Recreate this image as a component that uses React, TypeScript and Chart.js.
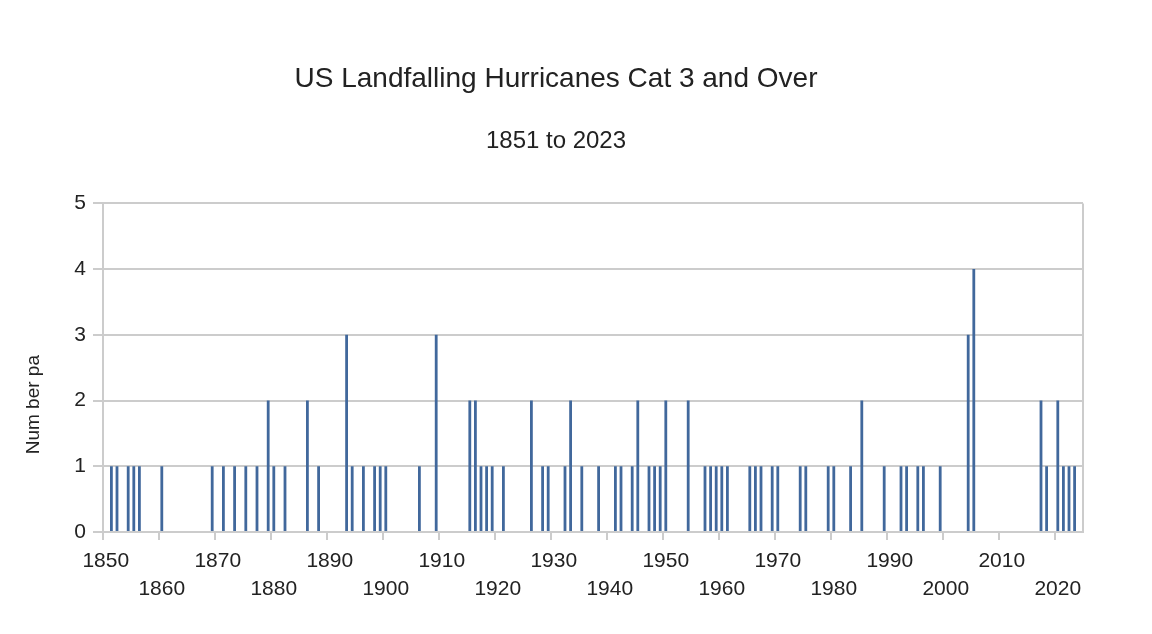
import { useEffect, useRef } from "react";
import { Chart, registerables } from "chart.js";

Chart.register(...registerables);

const FIRST_YEAR = 1850;
const LAST_YEAR = 2024;

// years with at least one Cat 3+ landfall, and how many
const landfallYears = [
  1851, 1852, 1854, 1855, 1856, 1860, 1869, 1871, 1873, 1875, 1877, 1879, 1880, 1882, 1886, 1888,
  1893, 1894, 1896, 1898, 1899, 1900, 1906, 1909, 1915, 1916, 1917, 1918, 1919, 1921, 1926, 1928,
  1929, 1932, 1933, 1935, 1938, 1941, 1942, 1944, 1945, 1947, 1948, 1949, 1950, 1954, 1957, 1958,
  1959, 1960, 1961, 1965, 1966, 1967, 1969, 1970, 1974, 1975, 1979, 1980, 1983, 1985, 1989, 1992,
  1993, 1995, 1996, 1999, 2004, 2005, 2017, 2018, 2020, 2021, 2022, 2023,
];
const landfallCounts = [
  1, 1, 1, 1, 1, 1, 1, 1, 1, 1, 1, 2, 1, 1, 2, 1,
  3, 1, 1, 1, 1, 1, 1, 3, 2, 2, 1, 1, 1, 1, 2, 1,
  1, 1, 2, 1, 1, 1, 1, 1, 2, 1, 1, 1, 2, 2, 1, 1,
  1, 1, 1, 1, 1, 1, 1, 1, 1, 1, 1, 1, 1, 2, 1, 1,
  1, 1, 1, 1, 3, 4, 2, 1, 2, 1, 1, 1,
];

const decadeLabels = [
  1850, 1860, 1870, 1880, 1890, 1900, 1910, 1920, 1930, 1940, 1950, 1960, 1970, 1980, 1990, 2000,
  2010, 2020,
];

const Y_MIN = 0;
const Y_MAX = 5;

const years = Array.from({ length: LAST_YEAR - FIRST_YEAR + 1 }, (_, i) => FIRST_YEAR + i);
const counts = years.map((y) => {
  const k = landfallYears.indexOf(y);
  return k < 0 ? 0 : landfallCounts[k];
});

const FONT = "'Liberation Sans', Arial, sans-serif";
const GRID = "#cccccc";
const TEXT = "#222222";
const BAR = "#41689c";

export default function App() {
  const canvasRef = useRef<HTMLCanvasElement>(null);

  useEffect(() => {
    document.body.style.margin = "0";
    if (!canvasRef.current) return;

    const chart = new Chart(canvasRef.current, {
      type: "bar",
      data: {
        labels: years.map(String),
        datasets: [
          {
            data: counts,
            backgroundColor: BAR,
            barPercentage: 0.5,
            categoryPercentage: 1,
          },
        ],
      },
      options: {
        responsive: true,
        maintainAspectRatio: false,
        animation: false,
        events: [],
        layout: { padding: { left: 29, right: 69, top: 0, bottom: 0 } },
        plugins: {
          legend: { display: false },
          tooltip: { enabled: false },
          title: {
            display: true,
            text: "US Landfalling Hurricanes Cat 3 and Over",
            color: TEXT,
            font: { family: FONT, size: 28, weight: "normal" },
            padding: { top: 62, bottom: 18 },
          },
          subtitle: {
            display: true,
            text: "1851 to 2023",
            color: TEXT,
            font: { family: FONT, size: 24, weight: "normal" },
            padding: { top: 13, bottom: 48 },
          },
        },
        scales: {
          x: {
            offset: true,
            afterFit: (scale) => {
              scale.height = 102;
            },
            border: { display: true, color: GRID, width: 2 },
            grid: {
              offset: true,
              drawOnChartArea: true,
              lineWidth: 2,
              tickLength: 8,
              // only the closing line on the right is visible inside the plot
              color: (ctx) => (ctx.type === "tick" ? "transparent" : GRID),
              tickColor: (ctx) =>
                ctx.type === "tick" && decadeLabels.includes(years[ctx.index]) ? GRID : "transparent",
            },
            ticks: {
              autoSkip: false,
              maxRotation: 0,
              minRotation: 0,
              padding: 8,
              color: TEXT,
              font: { family: FONT, size: 21, lineHeight: 1.3 },
              callback: (_v, i) => {
                const k = decadeLabels.indexOf(years[i]);
                if (k < 0) return "";
                return k % 2 === 0 ? String(years[i]) : ["", String(years[i])];
              },
            },
          },
          y: {
            min: Y_MIN,
            max: Y_MAX,
            afterFit: (scale) => {
              scale.width = 74;
            },
            border: { display: true, color: GRID, width: 2 },
            grid: { color: GRID, lineWidth: 2, tickLength: 10, tickColor: GRID },
            ticks: {
              stepSize: 1,
              padding: 7,
              color: TEXT,
              font: { family: FONT, size: 21 },
            },
            title: {
              display: true,
              text: "Num ber pa".padEnd(24, " "),
              color: TEXT,
              font: { family: FONT, size: 19 },
              padding: { top: -7, bottom: 7 },
            },
          },
        },
      },
    });

    return () => {
      chart.destroy();
    };
  }, []);

  return (
    <div style={{ position: "relative", width: 1152, height: 634, background: "#ffffff" }}>
      <canvas ref={canvasRef} />
    </div>
  );
}
